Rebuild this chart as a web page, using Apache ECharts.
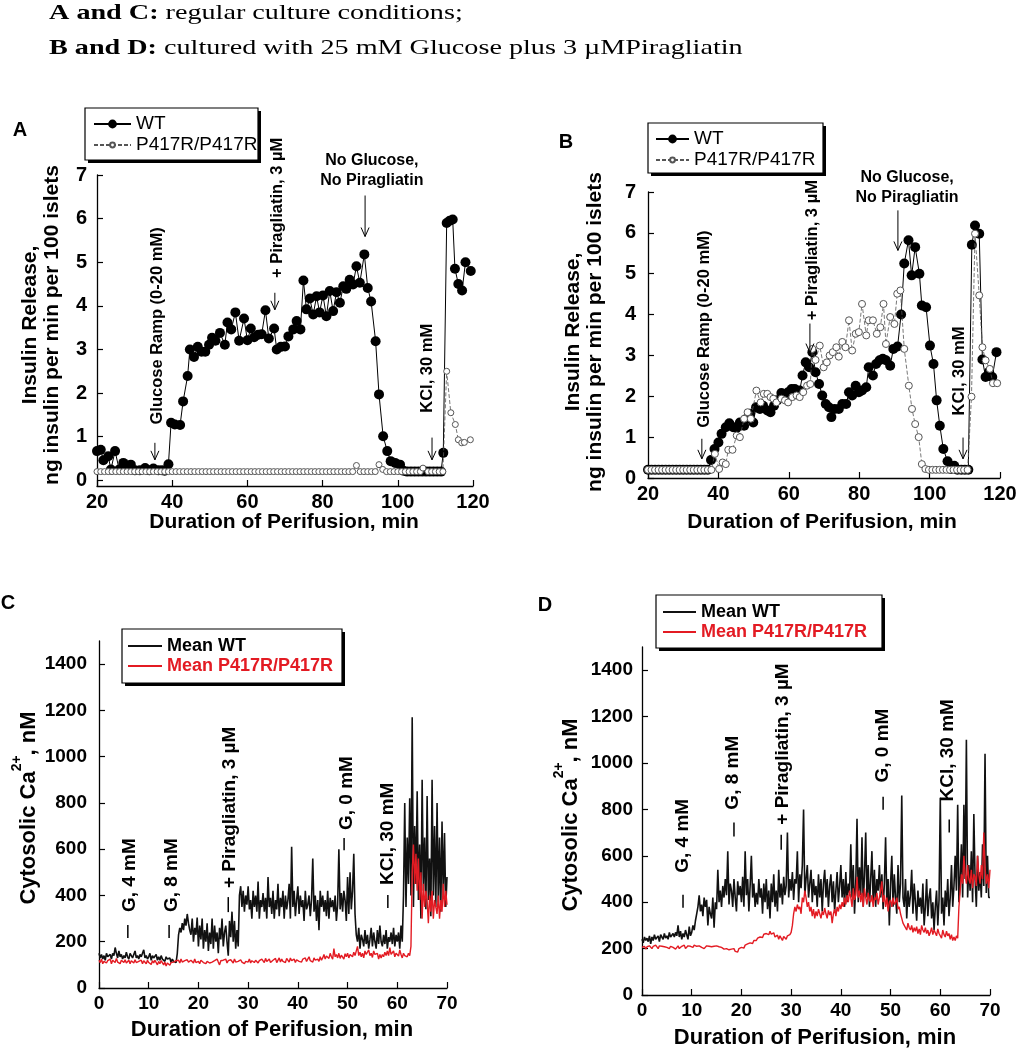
<!DOCTYPE html>
<html><head><meta charset="utf-8">
<script src="https://cdn.jsdelivr.net/npm/echarts@6/dist/echarts.min.js"></script>
<style>html,body{margin:0;padding:0;background:#fff}#c{width:1020px;height:1050px}</style>
</head><body><div id="c"></div><script>
// ---------- DATA ----------
// Panel A (regular culture): insulin release, [minute, ng/min/100 islets]
const aWT = [[20,0.67],[21,0.7],[21.7,0.46],[23,0.55],[23.7,0.25],[24.8,0.67],[25.9,0.25],[27,0.4],[28.1,0.34],[29,0.36],[30.1,0.23],[31.4,0.23],[32.8,0.28],[33.9,0.23],[35,0.27],[36.3,0.23],[37.3,0.23],[38,0.22],[39,0.37],[39.7,1.32],[40.7,1.28],[42.1,1.27],[42.9,1.81],[44.1,2.39],[44.7,3.0],[45.8,2.83],[46.8,3.06],[47.8,2.95],[48.8,2.95],[49.8,3.11],[50.6,3.27],[51.5,3.2],[52.7,3.38],[54,3.11],[54.7,3.62],[55.7,3.46],[56.8,3.85],[57.8,3.2],[59.1,3.71],[60,3.21],[60.9,3.48],[61.8,3.28],[62.9,3.34],[63.8,3.35],[64.8,3.9],[65.7,3.25],[67.1,3.48],[67.8,3.0],[68.9,3.06],[70,3.07],[70.9,3.3],[72.2,3.46],[73.1,3.65],[74.1,3.46],[74.9,4.58],[75.7,3.92],[76.6,4.17],[77.5,3.8],[78.4,4.22],[79.2,3.85],[80.1,4.24],[81,3.76],[81.9,4.34],[82.8,3.88],[83.7,4.31],[84.6,4.07],[85.5,4.45],[86.3,4.39],[87.2,4.6],[88.1,4.49],[89,4.91],[89.9,4.53],[91.1,5.18],[92,4.41],[92.9,4.1],[94.1,3.19],[95,1.97],[96.1,1.01],[97.2,0.67],[98.1,0.44],[99.3,0.4],[100.6,0.36],[101.5,0.22],[102.5,0.2],[103.5,0.2],[104.5,0.2],[105.5,0.2],[106.5,0.2],[107.5,0.2],[108.5,0.2],[109.5,0.2],[110.5,0.2],[111.5,0.2],[112.1,0.63],[113,5.9],[113.8,5.95],[114.6,5.98],[115.2,4.85],[116.1,4.5],[117.1,4.35],[118,5.0],[119.4,4.8]];
const aMut = [[20,0.2],[21,0.2],[22,0.2],[23,0.2],[24,0.2],[25,0.2],[26,0.2],[27,0.2],[28,0.2],[29,0.2],[30,0.2],[31,0.2],[32,0.2],[33,0.2],[34,0.2],[35,0.2],[36,0.2],[37,0.2],[38,0.2],[39,0.2],[40,0.2],[41,0.2],[42,0.2],[43,0.2],[44,0.2],[45,0.2],[46,0.2],[47,0.2],[48,0.2],[49,0.2],[50,0.2],[51,0.2],[52,0.2],[53,0.2],[54,0.2],[55,0.2],[56,0.2],[57,0.2],[58,0.2],[59,0.2],[60,0.2],[61,0.2],[62,0.2],[63,0.2],[64,0.2],[65,0.2],[66,0.2],[67,0.2],[68,0.2],[69,0.2],[70,0.2],[71,0.2],[72,0.2],[73,0.2],[74,0.2],[75,0.2],[76,0.2],[77,0.2],[78,0.2],[79,0.2],[80,0.2],[81,0.2],[82,0.2],[83,0.2],[84,0.2],[85,0.2],[86,0.2],[87,0.2],[88,0.2],[89,0.34],[90,0.2],[91,0.2],[92,0.2],[93,0.2],[94,0.2],[95,0.36],[96,0.25],[97,0.2],[98,0.2],[99,0.2],[100,0.2],[101,0.2],[102,0.2],[103,0.2],[104,0.2],[105,0.2],[106,0.2],[106.7,0.28],[108,0.2],[109,0.2],[110,0.2],[111,0.2],[112,0.2],[113,2.5],[114.1,1.55],[115.3,1.28],[116.1,0.93],[117,0.86],[117.7,0.87],[119.3,0.93]];
// Panel B (25 mM glucose + piragliatin culture)
const bWT = [[20,0.2],[21,0.2],[22,0.2],[23,0.2],[24,0.2],[25,0.2],[26,0.2],[27,0.2],[28,0.2],[29,0.2],[30,0.2],[31,0.2],[32,0.2],[33,0.2],[34,0.2],[35,0.2],[36,0.2],[37,0.2],[37.9,0.44],[38.9,0.71],[40,0.87],[40.9,1.08],[42.1,1.24],[43.1,1.34],[44.2,1.24],[45.2,1.23],[46.1,1.36],[47.3,1.28],[48,1.45],[49,1.57],[49.9,1.36],[50.7,1.73],[51.8,1.69],[52.7,1.77],[53.9,1.65],[54.8,1.61],[55.8,1.77],[56.7,1.9],[57.9,2.08],[58.9,1.99],[59.8,2.1],[60.8,2.18],[61.7,2.18],[63.1,2.14],[63.9,2.51],[64.8,2.83],[65.8,2.71],[66.7,3.08],[67.6,2.59],[68.6,2.3],[69.5,2.02],[70.5,1.81],[71.4,1.73],[72.1,1.49],[73,1.69],[74.2,1.69],[75.2,1.81],[76.3,1.81],[77.1,2.1],[78,2.02],[79,2.26],[79.9,2.1],[80.8,2.14],[82,2.22],[82.7,2.71],[83.9,2.51],[84.8,2.79],[85.8,2.88],[86.7,2.92],[87.6,2.88],[88.8,2.75],[89.7,3.16],[90.9,3.22],[91.9,4.0],[92.8,5.25],[94,5.82],[94.9,4.96],[95.9,5.65],[97.1,5.0],[97.8,4.22],[99,4.18],[100.1,3.24],[101.1,2.79],[102,1.9],[102.9,1.28],[103.9,0.71],[105.1,0.41],[106,0.22],[107,0.3],[107.9,0.2],[109,0.2],[110,0.2],[111,0.2],[112,5.71],[112.9,6.18],[114.1,5.98],[115,2.9],[115.9,2.47],[116.9,2.6],[117.8,2.47],[119,3.08]];
const bMut = [[20,0.2],[21,0.2],[22,0.2],[23,0.2],[24,0.2],[25,0.2],[26,0.2],[27,0.2],[28,0.2],[29,0.2],[30,0.2],[31,0.2],[32,0.2],[33,0.2],[34,0.2],[35,0.2],[36,0.2],[37,0.2],[38,0.2],[39,0.59],[40.2,0.22],[41.2,0.38],[42.1,0.34],[42.8,0.69],[44,0.69],[45.2,1.04],[46.1,1.0],[47.3,1.45],[48.3,1.61],[49.2,1.45],[50.8,2.14],[52,1.85],[52.9,2.06],[53.9,2.06],[54.8,1.98],[55.6,1.94],[56.5,1.85],[57.9,1.94],[58.9,1.9],[59.8,1.85],[61,1.98],[62.2,2.02],[63.1,1.98],[64.1,2.1],[65.2,2.26],[66.1,2.3],[66.7,3.16],[67.6,2.89],[68.8,3.24],[69.9,2.71],[70.8,2.83],[71.6,3.0],[72.5,3.08],[73.5,3.2],[74.2,2.97],[75.2,3.33],[76.1,3.2],[77.1,3.86],[78,3.12],[79,3.53],[79.9,3.57],[80.8,4.26],[82,3.49],[82.7,3.86],[83.9,3.86],[85,3.53],[86,3.69],[86.9,4.26],[87.6,3.28],[88.8,3.94],[90,3.77],[90.8,4.51],[91.7,4.59],[92.8,3.16],[94.1,2.26],[95,1.69],[95.9,1.32],[96.9,1.0],[97.8,0.34],[98.8,0.22],[99.8,0.2],[100.8,0.2],[101.8,0.2],[102.8,0.2],[103.8,0.2],[104.8,0.2],[105.8,0.2],[106.8,0.2],[107.8,0.2],[108.8,0.2],[109.8,0.2],[110.8,0.2],[111.9,1.99],[112.9,5.98],[114.1,4.47],[115,3.2],[115.9,2.88],[117.1,2.67],[118,2.32],[119.2,2.32]];

// Panels C and D: cytosolic Ca2+ (nM), one reading every 0.25 min from 0 to 70 min
const caStep = 0.25;
const cWT = [
150,130,145,125, 140,120,150,135, 130,145,125,150, 140,175,150,130, 160,135,145,125,
140,130,155,135, 125,150,140,130, 145,160,130,140, 125,145,135,150, 165,130,140,125,
135,150,120,140, 130,125,145,120, 135,120,140,125, 130,115,135,125, 120,130,110,125,
115,120,110,150, 230,260,240,280, 250,300,270,320, 280,250,230,300, 200,260,230,305,
180,270,210,300, 170,250,200,280, 160,240,190,300, 170,270,200,240, 150,260,210,300,
180,240,270,200, 140,290,220,330, 200,290,170,250, 180,400,440,350, 420,330,400,360,
440,340,380,300, 420,350,400,330, 460,300,380,350, 410,330,390,300, 480,350,390,320,
420,300,380,340, 450,310,390,350, 420,300,400,340, 380,450,300,610, 350,420,310,380,
440,320,400,350, 380,290,420,340, 360,400,310,380, 560,330,400,290, 380,250,420,350,
400,330,380,310, 420,300,390,350, 380,330,400,290, 360,600,340,410, 330,420,380,290,
480,320,500,340, 420,580,320,230, 200,260,170,230, 210,180,250,190, 230,170,210,260,
180,240,200,170, 250,190,270,200, 180,230,190,250, 170,220,200,240, 190,260,180,230,
200,240,170,270, 200,400,800,350, 650,450,820,400, 1170,350,700,450, 850,380,620,300,
900,420,650,340, 830,380,560,310, 900,400,700,350, 800,370,650,330, 720,400,670,350,
480];
const cMut = [
120,110,125,105, 115,120,108,118, 112,125,105,120, 115,110,128,112, 118,105,120,112,
110,122,108,115, 120,105,118,112, 108,122,110,118, 115,108,120,105, 118,112,105,120,
110,115,102,118, 108,120,112,100, 115,105,118,110, 100,112,95,108, 105,98,110,102,
112,105,118,110, 120,108,125,112, 105,118,110,122, 112,105,120,115, 108,125,110,118,
115,105,120,112, 110,118,105,115, 120,108,115,112, 105,118,110,125, 112,100,118,110,
120,112,125,108, 118,110,122,115, 108,125,112,120, 115,110,122,112, 118,105,115,120,
112,125,108,118, 115,110,120,112, 108,118,112,125, 120,110,128,115, 112,125,110,118,
120,115,128,110, 118,130,112,125, 115,120,110,128, 122,112,130,118, 115,125,110,122,
128,115,120,112, 125,118,130,115, 120,135,118,125, 112,130,120,128, 125,115,135,120,
130,145,125,138, 140,128,150,135, 125,170,135,145, 130,150,128,142, 138,125,148,135,
150,130,145,140, 135,155,140,148, 180,140,155,135, 150,130,160,145, 138,165,140,150,
132,160,145,140, 150,125,145,130, 145,135,155,140, 160,140,175,145, 140,160,135,150,
155,138,165,145, 130,150,140,145, 135,150,140,180, 500,620,450,580, 420,560,380,500,
300,450,350,420, 380,280,400,330, 420,300,380,350, 320,400,300,380, 330,450,350,420,
360];
const dWT = [
240,225,250,235, 245,230,255,220, 250,235,260,240, 245,255,230,260, 250,240,265,245,
255,240,270,250, 245,265,250,270, 255,300,250,275, 240,265,250,280, 260,240,295,255,
270,300,280,320, 350,380,430,360, 390,340,420,380, 410,300,380,350, 330,420,290,400,
370,540,400,450, 380,470,420,500, 430,620,390,480, 450,380,500,420, 360,490,430,470,
400,510,380,620, 430,500,360,470, 600,420,480,380, 440,390,500,420, 460,350,480,400,
500,370,450,330, 480,400,520,380, 450,360,540,420, 480,390,510,430, 470,700,420,500,
450,530,410,500, 480,620,400,520, 460,560,800,430, 500,560,420,480, 540,400,500,430,
470,380,520,420, 500,360,480,540, 420,500,380,470, 520,400,490,360, 450,530,400,470,
560,420,500,380, 530,400,480,440, 650,420,560,350, 480,760,400,550, 430,680,380,520,
700,420,560,380, 500,620,400,540, 380,500,450,560, 420,520,370,480, 680,400,500,300,
480,600,380,520, 420,350,560,400, 480,860,420,380, 500,330,450,380, 430,540,350,480,
400,320,450,380, 420,350,480,300, 380,500,340,420, 460,330,400,280, 380,450,300,410,
850,350,420,300, 450,380,500,340, 420,560,380,470, 600,450,820,400, 500,650,420,820,
500,1100,420,560, 450,620,400,780, 500,380,600,450, 530,420,650,470, 1040,440,600,420,
420];
const dMut = [
205,200,210,198, 208,202,212,205, 200,210,205,215, 208,200,212,205, 210,202,208,215,
205,212,200,210, 215,205,210,198, 205,212,200,208, 210,205,215,200, 208,212,205,210,
212,205,215,208, 210,205,212,218, 205,210,200,208, 212,205,210,215, 208,202,210,205,
212,205,208,200, 205,210,198,205, 200,205,195,202, 198,192,200,188, 195,185,200,198,
205,210,202,215, 212,220,215,225, 230,222,235,240, 235,245,240,250, 255,248,262,258,
265,270,260,275, 262,255,268,250, 245,258,240,255, 248,235,252,245, 240,255,248,260,
270,300,350,380, 360,390,370,380, 350,420,400,450, 420,380,400,360, 380,340,370,330,
360,340,370,350, 330,360,345,375, 350,330,365,345, 360,310,350,370, 340,380,360,390,
370,400,380,420, 390,430,400,450, 420,380,460,410, 430,510,420,450, 400,440,380,460,
420,390,440,410, 400,430,380,420, 410,440,390,420, 450,490,400,430, 380,420,360,400,
410,380,420,390, 400,420,370,380, 350,330,310,300, 300,280,310,290, 280,300,270,290,
275,295,265,285, 260,300,280,270, 290,265,280,255, 270,290,260,280, 275,255,285,265,
270,245,280,260, 250,275,255,265, 240,260,235,250, 235,255,245,380, 450,520,480,600,
520,480,560,500, 480,540,460,520, 510,470,600,520, 480,560,500,700, 550,480,520,460,
540];

// Axis tick values
const abXTicks = [20, 40, 60, 80, 100, 120];
const abYTicks = [0, 1, 2, 3, 4, 5, 6, 7];
const cdXTicks = [0, 10, 20, 30, 40, 50, 60, 70];
const cdYTicks = [0, 200, 400, 600, 800, 1000, 1200, 1400];

// ---------- STYLE / LAYOUT ----------
const SANS = "'Liberation Sans', Arial, Helvetica, sans-serif";
const SERIF = "'Liberation Serif', 'Times New Roman', serif";
const RED = '#e31b23';
const timed = (vals) => vals.map((v, i) => [i * caStep, v]);
const plain = (v) => String(v);

function xAx(gi, min, max, ticks, fs) {
  return {gridIndex: gi, type: 'value', min, max,
    axisLine: {onZero: false, lineStyle: {color: '#000', width: 1.3}},
    axisTick: {inside: true, length: 6, customValues: ticks, lineStyle: {color: '#000', width: 1.2}},
    axisLabel: {customValues: ticks, formatter: plain, color: '#000', fontFamily: SANS, fontWeight: 'bold', fontSize: fs, margin: 6},
    splitLine: {show: false}};
}
function yAx(gi, min, max, ticks, fs, margin) {
  return {gridIndex: gi, type: 'value', min, max,
    axisLine: {show: true, onZero: false, lineStyle: {color: '#000', width: 1.3}},
    axisTick: {show: true, inside: true, length: 6, customValues: ticks, lineStyle: {color: '#000', width: 1.2}},
    axisLabel: {customValues: ticks, formatter: plain, color: '#000', fontFamily: SANS, fontWeight: 'bold', fontSize: fs, margin},
    splitLine: {show: false}};
}
function leg(name, left, top, iw, ih, txt, extra) {
  return Object.assign({orient: 'vertical', left, top, padding: 0, itemGap: 0, itemWidth: iw, itemHeight: ih,
    selectedMode: false, z: 20, data: [name], textStyle: txt}, extra || {});
}
const legTxtAB = {fontFamily: SANS, fontSize: 19, color: '#000', lineHeight: 19};
const legTxtCD = {fontFamily: SANS, fontSize: 18, fontWeight: 'bold', color: '#000', lineHeight: 18};
const legTxtCDred = Object.assign({}, legTxtCD, {color: RED});

const option = {
  animation: false,
  backgroundColor: '#fff',
  grid: [
    {left: 97, top: 175, width: 376, height: 311},
    {left: 648, top: 192, width: 352, height: 286},
    {left: 99, top: 641, width: 348, height: 347},
    {left: 642, top: 647, width: 348, height: 348}
  ],
  xAxis: [
    xAx(0, 20, 120, abXTicks, 20), xAx(1, 20, 120, abXTicks, 20),
    xAx(2, 0, 70, cdXTicks, 19), xAx(3, 0, 70, cdXTicks, 19)
  ],
  yAxis: [
    yAx(0, -0.13, 7, abYTicks, 20, 10), yAx(1, 0, 7, abYTicks, 20, 12),
    yAx(2, 0, 1500, cdYTicks, 19, 12), yAx(3, 0, 1500, cdYTicks, 19, 9)
  ],
  legend: [
    leg('WT', 93, 114.5, 37, 11, legTxtAB),
    leg('P417R/P417R', 93, 135.5, 37, 6, legTxtAB),
    leg('WT', 655, 129.5, 33, 11, legTxtAB),
    leg('P417R/P417R', 655, 150.5, 33, 6, legTxtAB),
    leg('Mean WT', 128, 637, 34, 2, legTxtCD, {icon: 'rect'}),
    leg('Mean P417R/P417R', 128, 657, 34, 2, legTxtCDred, {icon: 'rect'}),
    leg('Mean WT', 663, 603, 33, 2, legTxtCD, {icon: 'rect'}),
    leg('Mean P417R/P417R', 663, 623, 33, 2, legTxtCDred, {icon: 'rect'})
  ],
  series: [
    {name: 'WT', type: 'line', xAxisIndex: 0, yAxisIndex: 0, data: aWT, symbol: 'circle', symbolSize: 10,
      itemStyle: {color: '#000'}, lineStyle: {color: '#000', width: 1}, z: 2},
    {name: 'P417R/P417R', type: 'line', xAxisIndex: 0, yAxisIndex: 0, data: aMut, symbol: 'circle', symbolSize: 6,
      itemStyle: {color: '#fff', borderColor: '#555', borderWidth: 1}, lineStyle: {color: '#555', width: 0.8, type: [4, 2]}, z: 3},
    {name: 'WT', type: 'line', xAxisIndex: 1, yAxisIndex: 1, data: bWT, symbol: 'circle', symbolSize: 10,
      itemStyle: {color: '#000'}, lineStyle: {color: '#000', width: 1}, z: 2},
    {name: 'P417R/P417R', type: 'line', xAxisIndex: 1, yAxisIndex: 1, data: bMut, symbol: 'circle', symbolSize: 7,
      itemStyle: {color: '#fff', borderColor: '#555', borderWidth: 1}, lineStyle: {color: '#555', width: 0.8, type: [4, 2]}, z: 3},
    {name: 'Mean WT', type: 'line', xAxisIndex: 2, yAxisIndex: 2, data: timed(cWT), symbol: 'none',
      lineStyle: {color: '#111', width: 1.6}, itemStyle: {color: '#111'}},
    {name: 'Mean P417R/P417R', type: 'line', xAxisIndex: 2, yAxisIndex: 2, data: timed(cMut), symbol: 'none',
      lineStyle: {color: RED, width: 1.4}, itemStyle: {color: RED}},
    {name: 'Mean WT', type: 'line', xAxisIndex: 3, yAxisIndex: 3, data: timed(dWT), symbol: 'none',
      lineStyle: {color: '#111', width: 1.6}, itemStyle: {color: '#111'}},
    {name: 'Mean P417R/P417R', type: 'line', xAxisIndex: 3, yAxisIndex: 3, data: timed(dMut), symbol: 'none',
      lineStyle: {color: RED, width: 1.4}, itemStyle: {color: RED}}
  ]
};

const chart = echarts.init(document.getElementById('c'));
chart.setOption(option);

// ---------- ANNOTATIONS (anchored in data coordinates) ----------
const annoAB = [
  {g: 0, text: 'Glucose Ramp (0-20 mM)', tx: 36.0, ty: 1.28, ax: 35.4, ay1: 0.86, ay2: 0.47},
  {g: 0, text: '+ Piragliatin, 3 µM', tx: 67.9, ty: 4.64, ax: 67.3, ay1: 4.3, ay2: 3.91},
  {g: 0, text: 'KCl, 30 mM', tx: 107.8, ty: 1.55, ax: 109.1, ay1: 0.98, ay2: 0.47},
  {g: 1, text: 'Glucose Ramp (0-20 mM)', tx: 35.9, ty: 1.23, ax: 35.3, ay1: 0.96, ay2: 0.47},
  {g: 1, text: '+ Piragliatin, 3 µM', tx: 66.6, ty: 3.86, ax: 66.0, ay1: 3.78, ay2: 3.07},
  {g: 1, text: 'KCl, 30 mM', tx: 108.6, ty: 1.53, ax: 109.5, ay1: 0.99, ay2: 0.47}
];
const annoNoGlc = [
  {g: 0, tx: 93.1, ty: 7.11, ax: 91.3, ay1: 6.53, ay2: 5.59},
  {g: 1, tx: 93.6, ty: 7.1, ax: 91.0, ay1: 6.55, ay2: 5.57}
];
const annoCD = [
  {g: 2, text: 'G, 4 mM', tx: 6.2, ty: 328, ax: 5.8, ay1: 272, ay2: 216},
  {g: 2, text: 'G, 8 mM', tx: 14.7, ty: 328, ax: 14.1, ay1: 272, ay2: 216},
  {g: 2, text: '+ Piragliatin, 3 µM', tx: 26.4, ty: 432, ax: 26.0, ay1: 393, ay2: 328},
  {g: 2, text: 'G, 0 mM', tx: 49.9, ty: 683, ax: 49.3, ay1: 648, ay2: 596},
  {g: 2, text: 'KCl, 30 mM', tx: 58.1, ty: 445, ax: 58.1, ay1: 402, ay2: 346},
  {g: 3, text: 'G, 4 mM', tx: 8.25, ty: 527, ax: 8.25, ay1: 432, ay2: 376},
  {g: 3, text: 'G, 8 mM', tx: 18.3, ty: 799, ax: 18.5, ay1: 743, ay2: 683},
  {g: 3, text: '+ Piragliatin, 3 µM', tx: 28.4, ty: 734, ax: 28.0, ay1: 691, ay2: 626},
  {g: 3, text: 'G, 0 mM', tx: 48.5, ty: 916, ax: 48.5, ay1: 855, ay2: 799},
  {g: 3, text: 'KCl, 30 mM', tx: 61.6, ty: 834, ax: 61.8, ay1: 756, ay2: 700}
];

function px(g, x, y) { return chart.convertToPixel({gridIndex: g}, [x, y]); }
const gfx = [];
function arrow(g, ax, ay1, ay2) {
  const p1 = px(g, ax, ay1), p2 = px(g, ax, ay2);
  gfx.push({type: 'line', shape: {x1: p1[0], y1: p1[1], x2: p2[0], y2: p2[1]}, style: {stroke: '#000', lineWidth: 1}, z: 50});
  gfx.push({type: 'polyline', shape: {points: [[p2[0] - 4, p2[1] - 9], [p2[0], p2[1]], [p2[0] + 4, p2[1] - 9]]},
    style: {stroke: '#000', lineWidth: 1, fill: null}, z: 50});
}
annoAB.forEach(a => {
  const t = px(a.g, a.tx, a.ty);
  gfx.push({type: 'text', x: t[0], y: t[1], rotation: Math.PI / 2, z: 50,
    style: {text: a.text, fill: '#000', font: 'bold 16.5px ' + SANS, align: 'left', verticalAlign: 'middle'}});
  arrow(a.g, a.ax, a.ay1, a.ay2);
});
annoNoGlc.forEach(a => {
  const t = px(a.g, a.tx, a.ty);
  gfx.push({type: 'text', x: t[0], y: t[1], z: 50,
    style: {text: 'No Glucose,\nNo Piragliatin', fill: '#000', font: 'bold 16px ' + SANS, lineHeight: 20, align: 'center', verticalAlign: 'middle'}});
  arrow(a.g, a.ax, a.ay1, a.ay2);
});
annoCD.forEach(a => {
  const t = px(a.g, a.tx, a.ty);
  gfx.push({type: 'text', x: t[0], y: t[1], rotation: Math.PI / 2, z: 50,
    style: {text: a.text, fill: '#000', font: 'bold 19px ' + SANS, align: 'left', verticalAlign: 'middle'}});
  const p1 = px(a.g, a.ax, a.ay1), p2 = px(a.g, a.ax, a.ay2);
  gfx.push({type: 'line', shape: {x1: p1[0], y1: p1[1], x2: p2[0], y2: p2[1]}, style: {stroke: '#000', lineWidth: 1.5}, z: 50});
});

// Legend frames with hard drop shadow
[[85, 108, 173, 52], [648, 123, 175, 50], [122, 629, 220, 54], [656, 595, 226, 53]].forEach(b => {
  gfx.push({type: 'rect', shape: {x: b[0] + 3, y: b[1] + 3, width: b[2], height: b[3]}, style: {fill: '#000'}, z: 5});
  gfx.push({type: 'rect', shape: {x: b[0], y: b[1], width: b[2], height: b[3]}, style: {fill: '#fff', stroke: '#000', lineWidth: 1.2}, z: 6});
});

// Titles, panel letters, axis names
const serifRich = {
  b: {fontFamily: SERIF, fontWeight: 'bold', fontSize: 22, fill: '#000'},
  n: {fontFamily: SERIF, fontSize: 22, fill: '#000'}
};
gfx.push({type: 'text', x: 49, y: 13, scaleX: 1.28, style: {text: '{b|A and C:}{n| regular culture conditions;}', rich: serifRich, verticalAlign: 'middle'}});
gfx.push({type: 'text', x: 49, y: 48, scaleX: 1.28, style: {text: '{b|B and D:}{n| cultured with 25 mM Glucose plus 3 µMPiragliatin}', rich: serifRich, verticalAlign: 'middle'}});
[['A', 20, 130], ['B', 566, 142], ['C', 8, 603], ['D', 545, 605]].forEach(l => {
  gfx.push({type: 'text', x: l[1], y: l[2], style: {text: l[0], font: 'bold 20px ' + SANS, fill: '#000', align: 'center', verticalAlign: 'middle'}});
});
[[41, 325], [584, 332]].forEach(p => {
  gfx.push({type: 'text', x: p[0], y: p[1], rotation: Math.PI / 2,
    style: {text: 'Insulin Release,\nng insulin per min per 100 islets', font: 'bold 21px ' + SANS, lineHeight: 22, fill: '#000', align: 'center', verticalAlign: 'middle'}});
});
[[284, 522, 21], [822, 522, 21], [272, 1030, 22], [815, 1038, 22]].forEach(p => {
  gfx.push({type: 'text', x: p[0], y: p[1],
    style: {text: 'Duration of Perifusion, min', font: 'bold ' + p[2] + 'px ' + SANS, fill: '#000', align: 'center', verticalAlign: 'middle'}});
});
const caRich = {
  a: {fontFamily: SANS, fontWeight: 'bold', fontSize: 22, fill: '#000', lineHeight: 30, verticalAlign: 'bottom'},
  s: {fontFamily: SANS, fontWeight: 'bold', fontSize: 14, fill: '#000', lineHeight: 30, verticalAlign: 'top'}
};
[[25, 808], [567, 815]].forEach(p => {
  gfx.push({type: 'text', x: p[0], y: p[1], rotation: Math.PI / 2,
    style: {text: '{a|Cytosolic Ca}{s|2+}{a|, nM}', rich: caRich, align: 'center', verticalAlign: 'middle'}});
});
chart.setOption({graphic: gfx});
</script></body></html>
